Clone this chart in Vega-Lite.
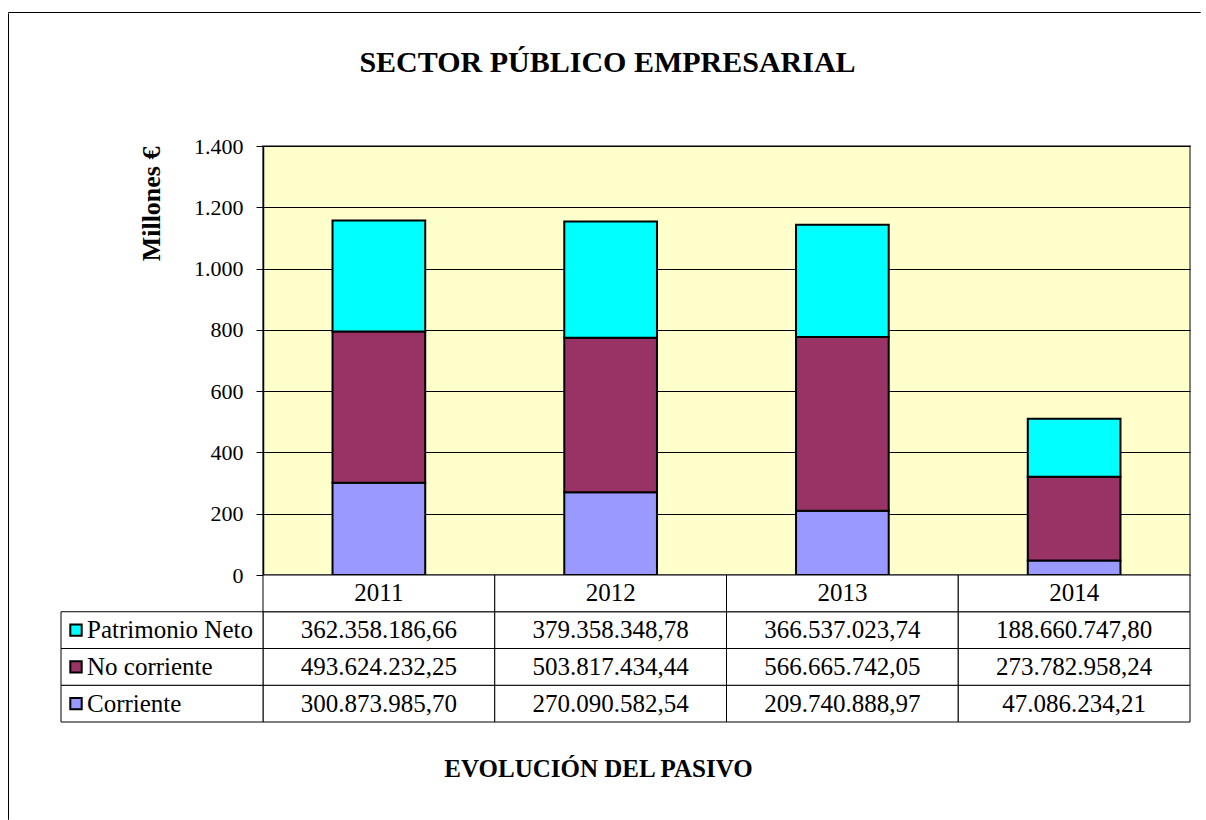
{
  "$schema": "https://vega.github.io/schema/vega-lite/v6.json",
  "background": "white",
  "padding": {"left": 7, "top": 11, "right": 0, "bottom": 0},
  "bounds": "flush",
  "spacing": 0,
  "data": {"values": [
    {"anio": "2011", "partida": "Corriente", "importe": 300873985.70},
    {"anio": "2011", "partida": "No corriente", "importe": 493624232.25},
    {"anio": "2011", "partida": "Patrimonio Neto", "importe": 362358186.66},
    {"anio": "2012", "partida": "Corriente", "importe": 270090582.54},
    {"anio": "2012", "partida": "No corriente", "importe": 503817434.44},
    {"anio": "2012", "partida": "Patrimonio Neto", "importe": 379358348.78},
    {"anio": "2013", "partida": "Corriente", "importe": 209740888.97},
    {"anio": "2013", "partida": "No corriente", "importe": 566665742.05},
    {"anio": "2013", "partida": "Patrimonio Neto", "importe": 366537023.74},
    {"anio": "2014", "partida": "Corriente", "importe": 47086234.21},
    {"anio": "2014", "partida": "No corriente", "importe": 273782958.24},
    {"anio": "2014", "partida": "Patrimonio Neto", "importe": 188660747.80}
  ]},
  "config": {
    "font": "Liberation Serif",
    "locale": {"number": {"decimal": ",", "thousands": ".", "grouping": [3], "currency": ["", " €"]}},
    "view": {"stroke": null},
    "title": {"font": "Liberation Serif", "color": "#000"},
    "text": {"font": "Liberation Serif"},
    "axis": {"labelFont": "Liberation Serif", "titleFont": "Liberation Serif"}
  },
  "vconcat": [
    {
      "width": 1192,
      "height": 0.01,
      "view": {"stroke": "#000", "strokeWidth": 1},
      "mark": {"type": "point", "opacity": 0, "size": 0},
      "encoding": {}
    },
    {
      "bounds": "flush",
      "spacing": 254,
      "hconcat": [
        {
          "width": 0.01,
          "height": 806,
          "view": {"stroke": "#000", "strokeWidth": 1},
          "mark": {"type": "point", "opacity": 0, "size": 0},
          "encoding": {}
        },
        {
          "bounds": "flush",
          "spacing": 0,
          "vconcat": [
            {
              "width": 927,
              "height": 133,
              "mark": {"type": "point", "opacity": 0, "size": 0},
              "encoding": {}
            },
            {
              "width": 927,
              "height": 429,
              "title": {"text": "SECTOR PÚBLICO EMPRESARIAL", "fontSize": 30, "fontWeight": "bold", "anchor": "middle", "frame": "group", "dx": -119, "offset": 33, "baseline": "alphabetic"},
              "view": {"fill": "#FFFFCC", "stroke": "#808080", "strokeWidth": 2},
              "mark": {"type": "bar", "stroke": "#000", "strokeWidth": 2, "width": {"band": 0.4}},
              "encoding": {
                "x": {"field": "anio", "type": "nominal", "scale": {"paddingInner": 0, "paddingOuter": 0}, "axis": null},
                "y": {
                  "field": "importe", "type": "quantitative", "stack": "zero",
                  "scale": {"domain": [0, 1400000000], "nice": false},
                  "axis": {
                    "title": "Millones €", "titleFont": "Liberation Serif", "titleFontSize": 26, "titleFontWeight": "bold",
                    "titleAnchor": "end", "titlePadding": 29, "titleColor": "#000",
                    "values": [0, 200000000, 400000000, 600000000, 800000000, 1000000000, 1200000000, 1400000000],
                    "labelExpr": "format(datum.value / 1000000, ',')",
                    "labelFont": "Liberation Serif", "labelFontSize": 22, "labelColor": "#000", "labelPadding": 13,
                    "tickSize": 7, "tickColor": "#000", "domainColor": "#000", "domainWidth": 1.5,
                    "gridColor": "#000", "gridWidth": 1
                  }
                },
                "color": {
                  "field": "partida", "type": "nominal",
                  "scale": {"domain": ["Corriente", "No corriente", "Patrimonio Neto"], "range": ["#9999FF", "#993366", "#00FFFF"]},
                  "legend": null
                },
                "order": {"field": "partida", "type": "nominal", "sort": "ascending"}
              }
            },
            {
              "width": 927,
              "height": 147,
              "title": {"text": "EVOLUCIÓN DEL PASIVO", "orient": "bottom", "fontSize": 25, "fontWeight": "bold", "anchor": "middle", "frame": "group", "dx": -128, "offset": 34, "baseline": "top"},
              "resolve": {"scale": {"x": "independent"}},
              "layer": [
                {
                  "layer": [
                    {
                      "mark": {"type": "rect", "fill": "white", "stroke": "#000", "strokeWidth": 1},
                      "encoding": {
                        "x": {"field": "anio", "type": "nominal", "scale": {"paddingInner": 0, "paddingOuter": 0}, "axis": null},
                        "y": {"field": "partida", "type": "nominal", "scale": {"domain": ["hdr", "Patrimonio Neto", "No corriente", "Corriente"], "paddingInner": 0, "paddingOuter": 0}, "axis": null}
                      }
                    },
                    {
                      "transform": [{"filter": "datum.partida === 'Corriente'"}],
                      "mark": {"type": "rect", "fill": "white", "stroke": "#000", "strokeWidth": 1},
                      "encoding": {
                        "x": {"field": "anio", "type": "nominal", "scale": {"paddingInner": 0, "paddingOuter": 0}, "axis": null},
                        "y": {"datum": "hdr", "type": "nominal", "scale": {"domain": ["hdr", "Patrimonio Neto", "No corriente", "Corriente"], "paddingInner": 0, "paddingOuter": 0}, "axis": null}
                      }
                    },
                    {
                      "transform": [{"filter": "datum.partida === 'Corriente'"}],
                      "mark": {"type": "text", "font": "Liberation Serif", "fontSize": 25, "color": "#000", "baseline": "middle", "align": "center"},
                      "encoding": {
                        "x": {"field": "anio", "type": "nominal", "scale": {"paddingInner": 0, "paddingOuter": 0}, "axis": null},
                        "y": {"datum": "hdr", "type": "nominal", "scale": {"domain": ["hdr", "Patrimonio Neto", "No corriente", "Corriente"], "paddingInner": 0, "paddingOuter": 0}, "axis": null},
                        "text": {"field": "anio", "type": "nominal"}
                      }
                    },
                    {
                      "mark": {"type": "text", "font": "Liberation Serif", "fontSize": 25, "color": "#000", "baseline": "middle", "align": "center"},
                      "encoding": {
                        "x": {"field": "anio", "type": "nominal", "scale": {"paddingInner": 0, "paddingOuter": 0}, "axis": null},
                        "y": {"field": "partida", "type": "nominal", "scale": {"domain": ["hdr", "Patrimonio Neto", "No corriente", "Corriente"], "paddingInner": 0, "paddingOuter": 0}, "axis": null},
                        "text": {"field": "importe", "type": "quantitative", "format": ",.2f"}
                      }
                    }
                  ]
                },
                {
                  "transform": [{"filter": "datum.anio === '2011'"}],
                  "layer": [
                    {
                      "mark": {"type": "rect", "fill": "white", "stroke": "#000", "strokeWidth": 1},
                      "encoding": {
                        "x": {"datum": "etiqueta", "type": "nominal", "scale": {"domain": ["etiqueta"], "range": [-202, 0], "paddingInner": 0, "paddingOuter": 0}, "axis": null},
                        "y": {"field": "partida", "type": "nominal", "scale": {"domain": ["hdr", "Patrimonio Neto", "No corriente", "Corriente"], "paddingInner": 0, "paddingOuter": 0}, "axis": null}
                      }
                    },
                    {
                      "mark": {"type": "point", "shape": "square", "filled": true, "size": 130, "stroke": "#000", "strokeWidth": 2, "opacity": 1, "xOffset": -86},
                      "encoding": {
                        "x": {"datum": "etiqueta", "type": "nominal", "scale": {"domain": ["etiqueta"], "range": [-202, 0], "paddingInner": 0, "paddingOuter": 0}, "axis": null},
                        "y": {"field": "partida", "type": "nominal", "scale": {"domain": ["hdr", "Patrimonio Neto", "No corriente", "Corriente"], "paddingInner": 0, "paddingOuter": 0}, "axis": null},
                        "fill": {"field": "partida", "type": "nominal", "scale": {"domain": ["Corriente", "No corriente", "Patrimonio Neto"], "range": ["#9999FF", "#993366", "#00FFFF"]}, "legend": null}
                      }
                    },
                    {
                      "mark": {"type": "text", "font": "Liberation Serif", "fontSize": 25, "color": "#000", "baseline": "middle", "align": "left", "dx": -75},
                      "encoding": {
                        "x": {"datum": "etiqueta", "type": "nominal", "scale": {"domain": ["etiqueta"], "range": [-202, 0], "paddingInner": 0, "paddingOuter": 0}, "axis": null},
                        "y": {"field": "partida", "type": "nominal", "scale": {"domain": ["hdr", "Patrimonio Neto", "No corriente", "Corriente"], "paddingInner": 0, "paddingOuter": 0}, "axis": null},
                        "text": {"field": "partida", "type": "nominal"}
                      }
                    }
                  ]
                }
              ]
            }
          ]
        }
      ]
    }
  ]
}
